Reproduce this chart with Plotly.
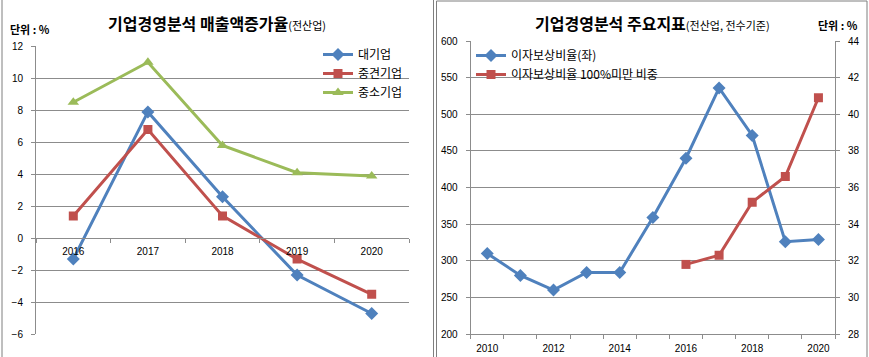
import plotly.graph_objects as go

# ---------------- data ----------------
years_left = [2016, 2017, 2018, 2019, 2020]
large_firm = [-1.3, 7.9, 2.6, -2.3, -4.7]        # 대기업
mid_firm = [1.4, 6.8, 1.4, -1.3, -3.5]           # 중견기업
small_firm = [8.5, 11.0, 5.8, 4.1, 3.9]          # 중소기업

years_right = [2010, 2011, 2012, 2013, 2014, 2015, 2016, 2017, 2018, 2019, 2020]
icr = [310, 280, 260, 284, 284, 359, 440, 536, 471, 326, 329]   # 이자보상비율(좌)
years_under100 = [2016, 2017, 2018, 2019, 2020]
icr_under100 = [31.8, 32.3, 35.2, 36.6, 40.9]   # 이자보상비율 100% 미만 비중

left_names = ["대기업", "중견기업", "중소기업"]
right_names = ["이자보상비율(좌)", "이자보상비율 100%미만 비중"]

# ---------------- style ----------------
W, H = 869, 357
BLUE, RED, GREEN = "#4F81BD", "#C0504D", "#9BBB59"
GRID = "#8C8C8C"
KFONT = "Noto Sans CJK KR"
NFONT = "Liberation Sans"


def px(x):
    return x / W


def py(y):
    return 1 - y / H


fig = go.Figure()

fig.add_trace(go.Scatter(x=years_left, y=large_firm, name=left_names[0], mode="lines+markers",
                         line=dict(color=BLUE, width=3), marker=dict(symbol="diamond", size=10),
                         xaxis="x", yaxis="y", legend="legend"))
fig.add_trace(go.Scatter(x=years_left, y=mid_firm, name=left_names[1], mode="lines+markers",
                         line=dict(color=RED, width=3), marker=dict(symbol="square", size=9),
                         xaxis="x", yaxis="y", legend="legend"))
fig.add_trace(go.Scatter(x=years_left, y=small_firm, name=left_names[2], mode="lines+markers",
                         line=dict(color=GREEN, width=3), marker=dict(symbol="triangle-up", size=10),
                         xaxis="x", yaxis="y", legend="legend"))

fig.add_trace(go.Scatter(x=years_right, y=icr, name=right_names[0], mode="lines+markers",
                         line=dict(color=BLUE, width=3), marker=dict(symbol="diamond", size=10),
                         xaxis="x2", yaxis="y3", legend="legend2"))
fig.add_trace(go.Scatter(x=years_under100, y=icr_under100, name=right_names[1], mode="lines+markers",
                         line=dict(color=RED, width=3), marker=dict(symbol="square", size=9),
                         xaxis="x2", yaxis="y4", legend="legend2"))

tickfont = dict(family=NFONT, size=10, color="#000000")

# left chart geometry
L_X0, L_X1 = 36, 409
L_Y0, L_Y1 = 46.3, 334.3   # 12 .. -6
# right chart geometry
R_X0, R_X1 = 470.7, 835
R_Y0, R_Y1 = 41, 334       # top .. bottom

fig.update_layout(
    width=W, height=H,
    margin=dict(l=0, r=0, t=0, b=0, autoexpand=False),
    paper_bgcolor="white", plot_bgcolor="white",
    xaxis=dict(domain=[px(L_X0), px(L_X1)], range=[2015.5, 2020.5], anchor="free",
               position=py(238), tickmode="array", tickvals=years_left,
               ticks="", showgrid=False, zeroline=False, showline=True, linecolor=GRID,
               tickfont=tickfont, ticklabelstandoff=4, automargin=False,
               minor=dict(tick0=2015.5, dtick=1, ticks="outside", ticklen=4, tickcolor=GRID,
                          showgrid=False)),
    yaxis=dict(domain=[py(L_Y1), py(L_Y0)], range=[-6, 12], dtick=2, anchor="x",
               showgrid=True, gridcolor=GRID, gridwidth=1, zeroline=False,
               showline=True, linecolor=GRID, ticks="outside", ticklen=4, tickcolor=GRID,
               tickfont=tickfont, ticklabelstandoff=6, automargin=False),
    xaxis2=dict(domain=[px(R_X0), px(R_X1)], range=[2009.5, 2020.5], anchor="y3",
                tickmode="array", tickvals=years_right[::2], ticks="", showgrid=False,
                zeroline=False, showline=True, linecolor=GRID, tickfont=tickfont,
                ticklabelstandoff=5, automargin=False,
                minor=dict(tick0=2009.5, dtick=1, ticks="outside", ticklen=4, tickcolor=GRID,
                           showgrid=False)),
    yaxis3=dict(domain=[py(R_Y1), py(R_Y0)], range=[200, 600], dtick=50, anchor="x2",
                showgrid=True, gridcolor=GRID, gridwidth=1, zeroline=False,
                showline=True, linecolor=GRID, ticks="outside", ticklen=4, tickcolor=GRID,
                tickfont=tickfont, ticklabelstandoff=6, automargin=False),
    yaxis4=dict(range=[28, 44], dtick=2, overlaying="y3", anchor="x2", side="right",
                showgrid=False, zeroline=False, showline=True, linecolor=GRID,
                ticks="outside", ticklen=4, tickcolor=GRID, tickfont=tickfont,
                ticklabelstandoff=6, automargin=False),
    legend=dict(x=px(318), y=py(40), xanchor="left", yanchor="top",
                bgcolor="rgba(0,0,0,0)", font=dict(family=KFONT, size=12, color="#000000"),
                tracegroupgap=0, itemwidth=30),
    legend2=dict(x=px(471), y=py(41), xanchor="left", yanchor="top",
                 bgcolor="rgba(0,0,0,0)", font=dict(family=KFONT, size=12, color="#000000"),
                 tracegroupgap=0, itemwidth=30),
    showlegend=True,
)

annotations = [
    dict(x=px(217), y=py(23),
         text="<b>기업경영분석 매출액증가율</b><span style='font-size:11px'>(전산업)</span>",
         font=dict(family=KFONT, size=16, color="#000000")),
    dict(x=px(652), y=py(23),
         text="<b>기업경영분석 주요지표</b><span style='font-size:11px'>(전산업, 전수기준)</span>",
         font=dict(family=KFONT, size=16, color="#000000")),
    dict(x=px(30), y=py(29), text="<b>단위 : %</b>",
         font=dict(family=KFONT, size=11, color="#000000")),
    dict(x=px(838), y=py(25), text="<b>단위 : %</b>",
         font=dict(family=KFONT, size=11, color="#000000")),
]
for a in annotations:
    a.update(xref="paper", yref="paper", showarrow=False, xanchor="center", yanchor="middle")
fig.update_layout(annotations=annotations)

BORDER = "#7F7F7F"
shapes = [
    dict(type="line", x0=px(2), x1=px(2), y0=0, y1=1),
    dict(type="line", x0=px(433.5), x1=px(433.5), y0=0, y1=1),
    dict(type="line", x0=px(436.5), x1=px(436.5), y0=0, y1=py(1)),
    dict(type="line", x0=px(867), x1=px(867), y0=0, y1=py(1)),
    dict(type="line", x0=px(436.5), x1=px(867), y0=py(1), y1=py(1)),
]
for s in shapes:
    s.update(xref="paper", yref="paper", line=dict(color=BORDER, width=1))
fig.update_layout(shapes=shapes)

fig.write_html("out.html", config={"displayModeBar": False, "staticPlot": True},
               post_script="document.body.style.margin='0px';document.body.style.overflow='hidden';")
